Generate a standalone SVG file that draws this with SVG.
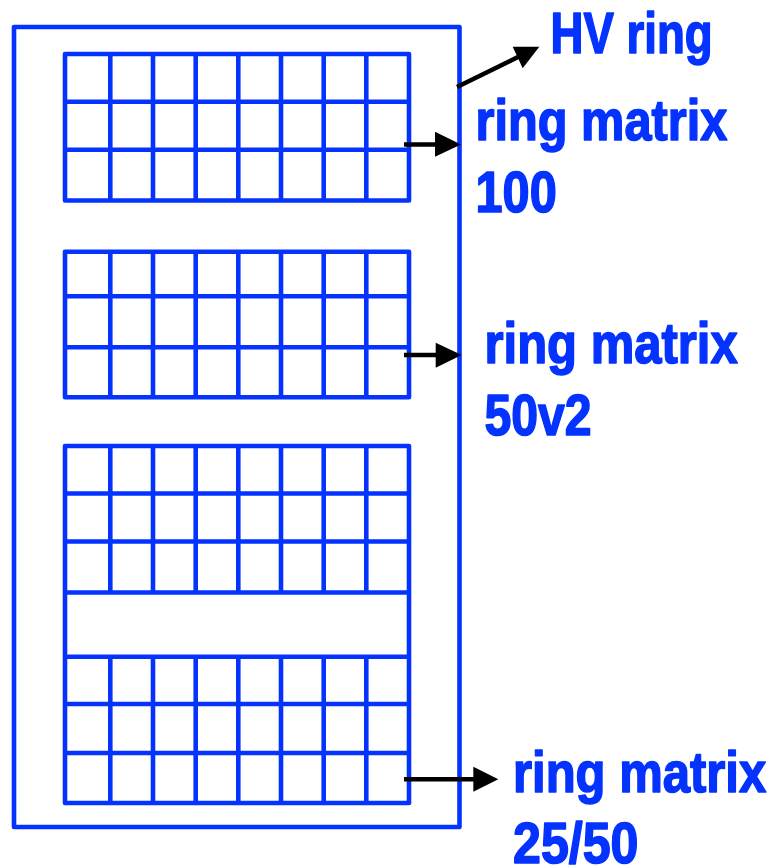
<svg xmlns="http://www.w3.org/2000/svg" width="775" height="865" viewBox="0 0 775 865">
<defs>
<style>
.b{fill:none;stroke:#0433FF;stroke-width:4.6;stroke-linejoin:round;stroke-linecap:butt}
.a{fill:none;stroke:#000;stroke-width:4.5}
.h{fill:#000;stroke:none}
.t{font-family:"Liberation Sans",Arial,sans-serif;font-weight:bold;font-size:57px;fill:#0433FF;stroke:#0433FF;stroke-width:1.6;stroke-linejoin:round}
</style>
</defs>
<rect fill="#fff" x="0" y="0" width="775" height="865"/>
<g id="hv-ring">
<rect class="b" x="14" y="27" width="445.5" height="800"/>
</g>
<g id="matrix-100">
<rect class="b" x="65" y="54" width="344" height="146.5"/>
<path class="b" d="M65 101.7H409M65 149.7H409M110.3 54V200.5M153 54V200.5M195.7 54V200.5M238.3 54V200.5M281 54V200.5M323.7 54V200.5M366.3 54V200.5"/>
</g>
<g id="matrix-50v2">
<rect class="b" x="65" y="251.7" width="344" height="145.6"/>
<path class="b" d="M65 296.3H409M65 347.3H409M110.3 251.7V397.3M153 251.7V397.3M195.7 251.7V397.3M238.3 251.7V397.3M281 251.7V397.3M323.7 251.7V397.3M366.3 251.7V397.3"/>
</g>
<g id="matrix-25-50">
<rect class="b" x="65" y="446" width="344" height="357"/>
<path class="b" d="M65 493.5H409M65 541.5H409M65 592.5H409M65 656.7H409M65 704H409M65 753H409"/>
<path class="b" d="M110.3 446V592.5M153 446V592.5M195.7 446V592.5M238.3 446V592.5M281 446V592.5M323.7 446V592.5M366.3 446V592.5"/>
<path class="b" d="M110.3 656.7V803M153 656.7V803M195.7 656.7V803M238.3 656.7V803M281 656.7V803M323.7 656.7V803M366.3 656.7V803"/>
</g>
<g id="connectors">
<path class="a" d="M457 87L520 56"/>
<polygon class="h" points="539.3,46.7 512.7,46.7 522.7,68.3"/>
<path class="a" d="M404 144.5H437"/>
<polygon class="h" points="461,144.5 435,131.7 435,156.7"/>
<path class="a" d="M404 355H437"/>
<polygon class="h" points="461.7,355 435.7,342.7 435.7,367.7"/>
<path class="a" d="M404 779.3H475"/>
<polygon class="h" points="498.3,779.3 473.3,766.7 473.3,791.7"/>
</g>
<g id="labels">
<text class="t" transform="translate(550.5 53.3) scale(0.8 1)">HV ring</text>
<text class="t" transform="translate(475.5 140) scale(0.855 1)">ring matrix</text>
<text class="t" transform="translate(475.5 211.7) scale(0.855 1)">100</text>
<text class="t" transform="translate(484.5 363.3) scale(0.86 1)">ring matrix</text>
<text class="t" transform="translate(484.5 435) scale(0.845 1)">50v2</text>
<text class="t" transform="translate(513 791.7) scale(0.86 1)">ring matrix</text>
<text class="t" transform="translate(513 863) scale(0.88 1)">25/50</text>
</g>
</svg>
